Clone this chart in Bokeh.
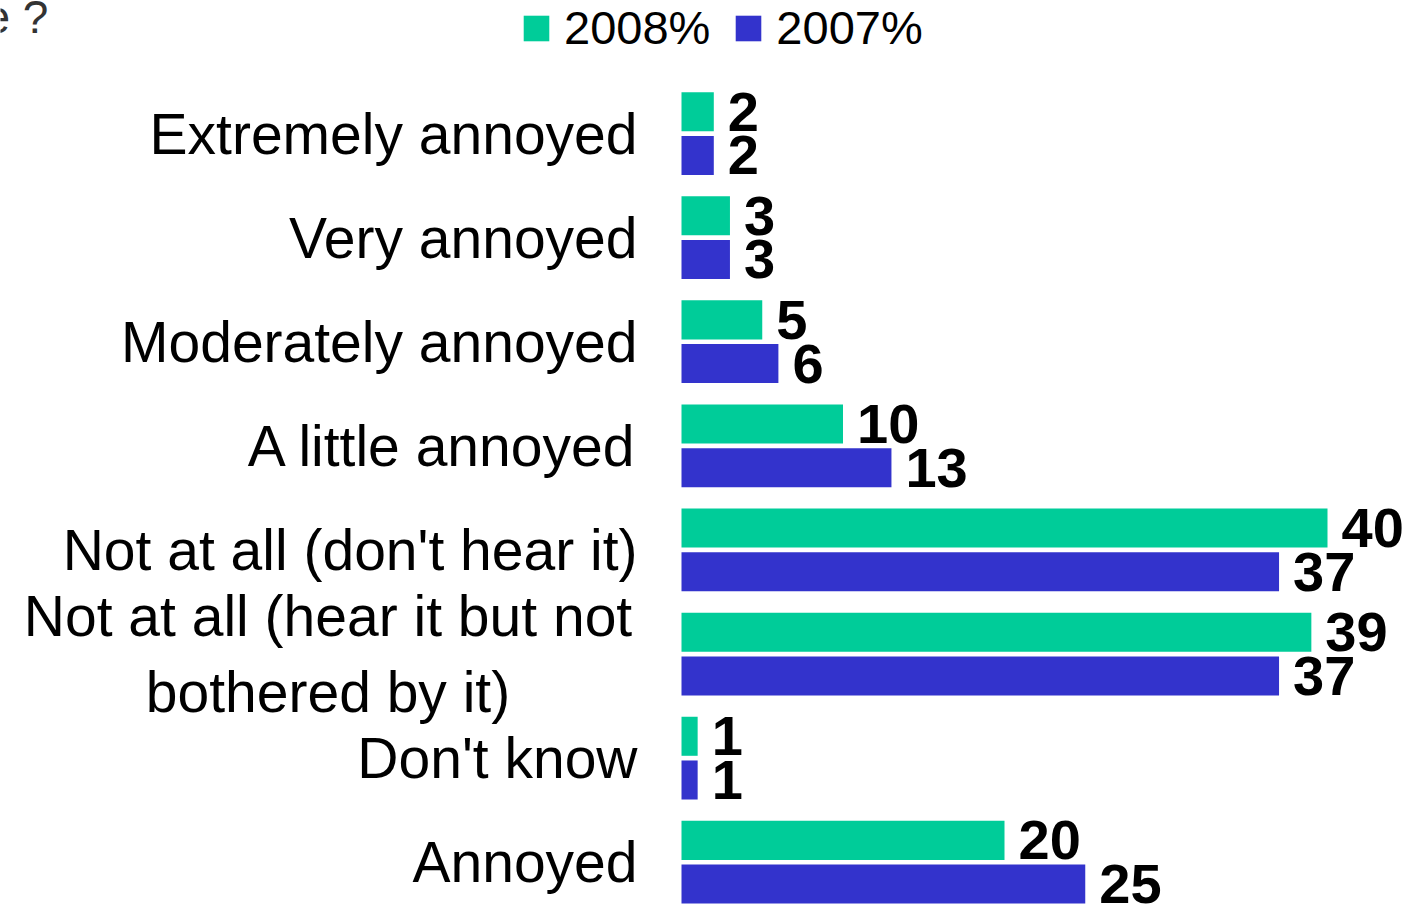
from bokeh.plotting import figure
from bokeh.models import ColumnDataSource, Range1d, Legend, LegendItem, Label
from bokeh.embed import file_html
from bokeh.resources import INLINE
from bokeh.core.properties import value

categories = ["Extremely annoyed", "Very annoyed", "Moderately annoyed", "A little annoyed",
              "Not at all (don't hear it)", "Not at all (hear it but not\nbothered by it)",
              "Don't know", "Annoyed"]
v2008 = [2, 3, 5, 10, 40, 39, 1, 20]
v2007 = [2, 3, 6, 13, 37, 37, 1, 25]
series_names = ["2008%", "2007%"]
colors = ["#00CC99", "#3333CC"]
title_fragment = "e ?"

W, H = 1409, 904
ZERO_PX = 681.0       # pixel position of value 0
PX_PER_UNIT = 16.15
pos = list(range(len(categories)))
off = 0.21
bh = 0.375


def px_to_x(px):
    return (px - ZERO_PX) / PX_PER_UNIT


p = figure(width=W, height=H, output_backend="svg", toolbar_location=None,
           x_range=Range1d(px_to_x(0), px_to_x(W)),
           y_range=Range1d(7.406, -1.278),
           min_border_left=0, min_border_right=0, min_border_top=0, min_border_bottom=0)
p.outline_line_color = None
p.xgrid.visible = False
p.ygrid.visible = False
p.xaxis.visible = False
p.yaxis.visible = False
p.background_fill_color = "white"

# category labels: right-aligned at 637px; the two-line label is centred as a block
label_right = px_to_x(637)
block_w_px = 619
label_x = [label_right] * len(categories)
label_align = ["right"] * len(categories)
for i, c in enumerate(categories):
    if "\n" in c:
        label_x[i] = px_to_x(637 - block_w_px / 2)
        label_align[i] = "center"

csrc = ColumnDataSource(dict(x=label_x, y=pos, text=categories, align=label_align))
p.text(x="x", y="y", text="text", text_align="align", source=csrc, text_baseline="middle",
       text_font=value("Liberation Sans"), text_font_size="57px", text_color="#000000",
       text_line_height=1.2)

src = ColumnDataSource(dict(
    y08=[y - off for y in pos], y07=[y + off for y in pos],
    v08=v2008, v07=v2007,
    t08=[str(v) for v in v2008], t07=[str(v) for v in v2007]))

r08 = p.hbar(y="y08", left=0, right="v08", height=bh, source=src, fill_color=colors[0], line_color=None)
r07 = p.hbar(y="y07", left=0, right="v07", height=bh, source=src, fill_color=colors[1], line_color=None)

for yc, vc, tc in (("y08", "v08", "t08"), ("y07", "v07", "t07")):
    p.text(x=vc, y=yc, text=tc, source=src, x_offset=14, text_baseline="middle", text_align="left",
           text_font=value("Liberation Sans"), text_font_style="bold", text_font_size="56px",
           text_color="#000000")

legend = Legend(items=[LegendItem(label=series_names[0], renderers=[r08]),
                       LegendItem(label=series_names[1], renderers=[r07])],
                orientation="horizontal", location=(520, H - 55),
                label_text_font="Liberation Sans", label_text_font_size="47px",
                label_text_color="#000000",
                glyph_width=32, glyph_height=32, label_standoff=12, spacing=22,
                padding=0, margin=0, border_line_color=None, background_fill_alpha=0)
p.add_layout(legend)

p.add_layout(Label(x=-16, y=H - 16, x_units="screen", y_units="screen", text=title_fragment,
                   text_baseline="alphabetic",
                   text_font="Liberation Sans", text_font_size="46px", text_color="#333333"))

open("out.html", "w").write(file_html(p, INLINE))
